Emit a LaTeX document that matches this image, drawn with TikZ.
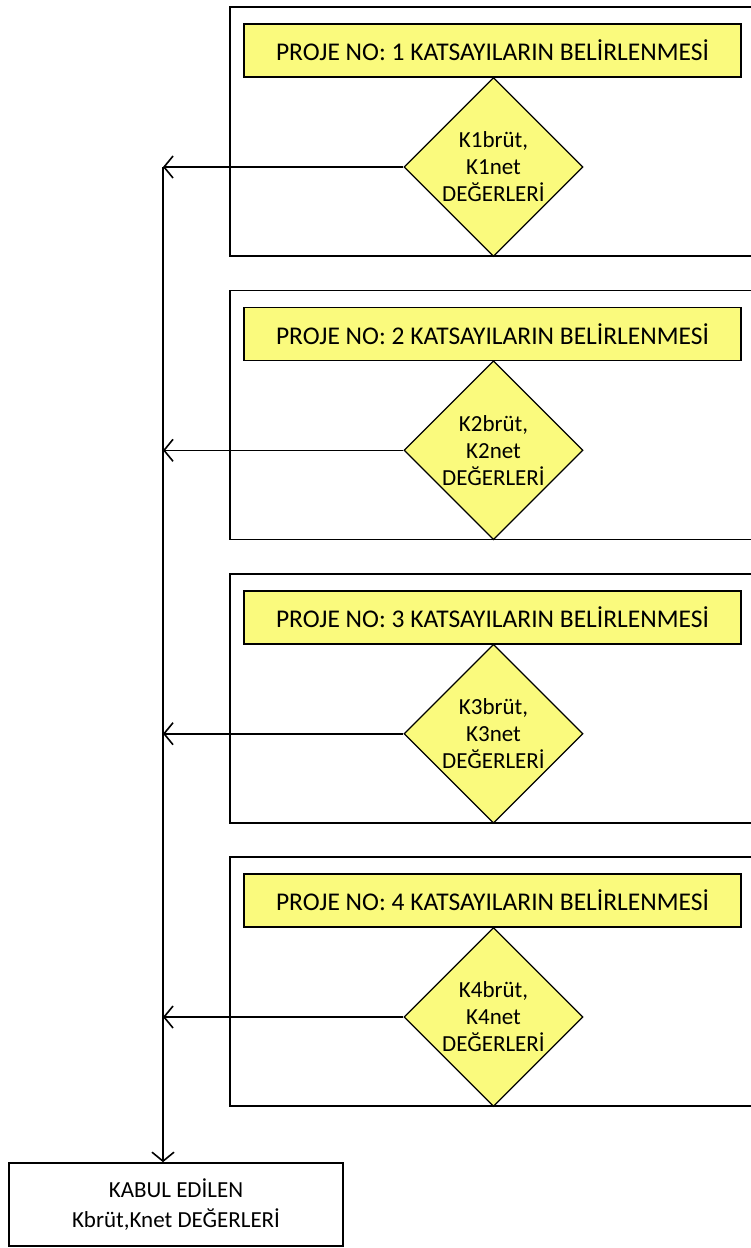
\documentclass[tikz,border=0pt]{standalone}
\usepackage{fontspec}
\setmainfont{Carlito}
\usetikzlibrary{shapes.geometric,arrows.meta}
\definecolor{hiyellow}{RGB}{250,250,125}
\newcommand{\hdr}[1]{\fontsize{25.5}{30}\selectfont PROJE NO: #1 KATSAYILARIN BELİRLENMESİ}
\newcommand{\kval}[1]{K#1brüt,\\K#1net\\DEĞERLERİ}

\begin{document}
\begin{tikzpicture}
                \tikzset{x=1pt, y=-1pt}
                \tikzstyle{frame}=[rectangle, draw, line width=1.6pt, minimum width=540pt, minimum height=249pt]
                \tikzstyle{header}=[rectangle, draw, line width=1.6pt, fill=hiyellow, minimum width=497pt, minimum height=53pt, inner sep=0pt]
                \tikzstyle{decide}=[diamond, draw, line width=1.2pt, fill=hiyellow, minimum width=179pt, minimum height=179pt, inner sep=0pt, align=center, font=\fontsize{23}{27}\selectfont]
                \tikzstyle{result}=[rectangle, draw, line width=1.6pt, minimum width=334pt, minimum height=83pt, align=center, font=\fontsize{23}{30}\selectfont]
                \tikzstyle{arr}=[line width=1.6pt, -{Straight Barb[length=9pt, width=22pt, line width=1.6pt]}]

                \useasboundingbox (0,0) rectangle (751,1248);
                \clip (0,0) rectangle (751,1248);

                \draw (500.0, 131.5)   node[frame]  (f1)   {};
                \draw (500.0, 414.8)   node[frame]  (f2)   {};
                \draw (500.0, 698.2)   node[frame]  (f3)   {};
                \draw (500.0, 981.5)   node[frame]  (f4)   {};

                \draw (492.5, 50.5)    node[header] (h1)   {\hdr{1}};
                \draw (492.5, 333.8)   node[header] (h2)   {\hdr{2}};
                \draw (492.5, 617.2)   node[header] (h3)   {\hdr{3}};
                \draw (492.5, 900.5)   node[header] (h4)   {\hdr{4}};

                \draw (493.5, 167.0)   node[decide] (d1)   {\kval{1}};
                \draw (493.5, 450.3)   node[decide] (d2)   {\kval{2}};
                \draw (493.5, 733.7)   node[decide] (d3)   {\kval{3}};
                \draw (493.5, 1017.0)  node[decide] (d4)   {\kval{4}};

                \draw (176.0, 1204.5)  node[result] (kabul) {KABUL EDİLEN\\Kbrüt,Knet DEĞERLERİ};

                \coordinate (bus) at (163, 1163);
                \coordinate (j1) at (d1.west -| bus);
                \coordinate (j2) at (d2.west -| bus);
                \coordinate (j3) at (d3.west -| bus);
                \coordinate (j4) at (d4.west -| bus);

                \draw [arr]         (d1.west) -- (j1);
                \draw [arr]         (d2.west) -- (j2);
                \draw [arr]         (d3.west) -- (j3);
                \draw [arr]         (d4.west) -- (j4);
                \draw [arr]         (j1) -- (kabul.north -| bus);
\end{tikzpicture}
\end{document}
